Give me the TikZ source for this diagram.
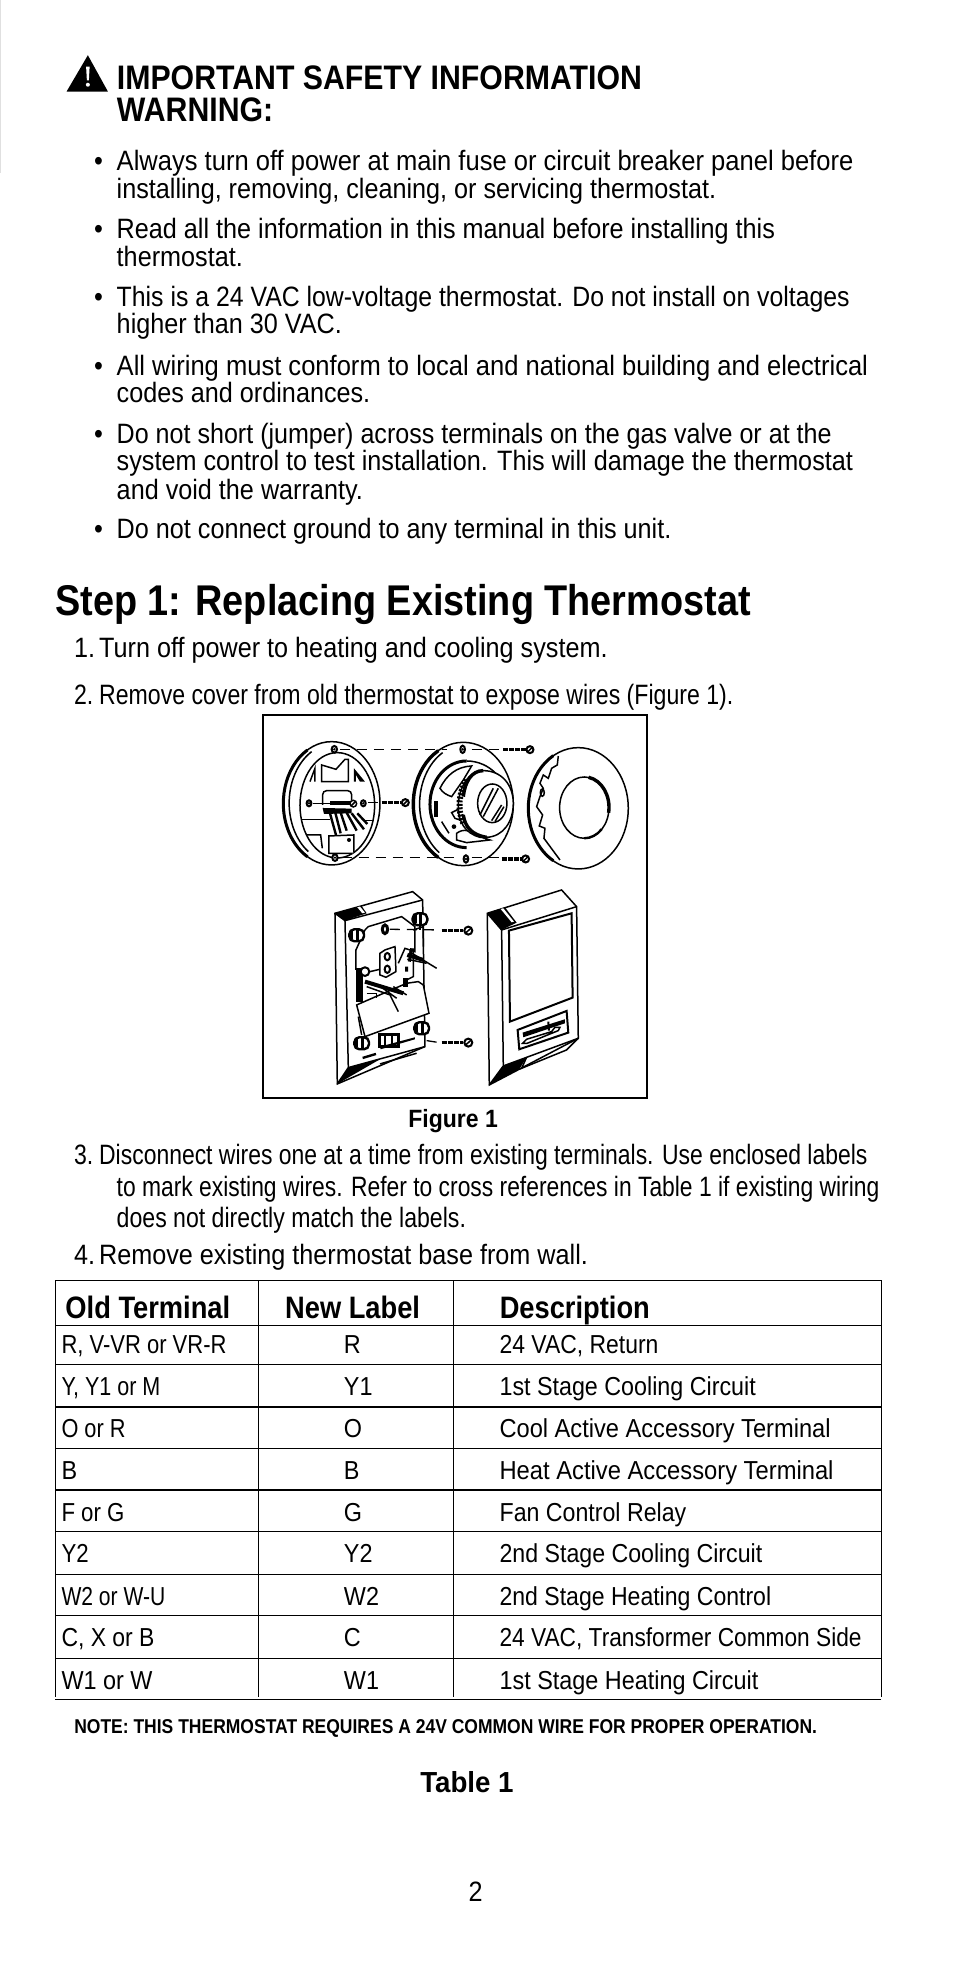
\documentclass[tikz,border=0pt]{standalone}
\usepackage{fontspec}
\setmainfont[FakeStretch=0.90,BoldFont={Liberation Sans Bold},BoldFeatures={FakeStretch=0.90}]{Liberation Sans}
\newfontfamily\tightf[FakeStretch=0.825]{Liberation Sans}
\newfontfamily\headf[FakeStretch=0.89]{Liberation Sans Bold}
\newfontfamily\titlef[FakeStretch=0.88]{Liberation Sans Bold}
\newfontfamily\colf[FakeStretch=0.88]{Liberation Sans Bold}
\newfontfamily\capf[FakeStretch=0.92]{Liberation Sans Bold}
\newfontfamily\tabf[FakeStretch=0.955]{Liberation Sans Bold}
\newfontfamily\notef[FakeStretch=0.875]{Liberation Sans Bold}
\newcommand{\sx}[2]{\scalebox{#1}[1]{#2}}
\tikzset{
 txt/.style={anchor=base west,inner sep=0pt,outer sep=0pt,font=\fontsize{28}{30}\selectfont},
 tight/.style={anchor=base west,inner sep=0pt,outer sep=0pt,font=\fontsize{28}{30}\tightf},
 cell/.style={anchor=base west,inner sep=0pt,outer sep=0pt,font=\fontsize{26}{28}\selectfont},
 ctrtxt/.style={txt,anchor=base},
 headtxt/.style={anchor=base west,inner sep=0pt,font=\fontsize{34}{36}\headf},
 titletxt/.style={anchor=base west,inner sep=0pt,font=\fontsize{43}{46}\titlef},
 colhead/.style={anchor=base west,inner sep=0pt,font=\fontsize{31}{33}\colf},
 captxt/.style={anchor=base,inner sep=0pt,font=\fontsize{25}{27}\capf},
 tabtxt/.style={anchor=base,inner sep=0pt,font=\fontsize{29}{31}\tabf},
 notetxt/.style={anchor=base west,inner sep=0pt,font=\fontsize{20}{22}\notef},
 art/.style={line width=1.5pt,black},
 dash art/.style={line width=1.3pt,black,dash pattern=on 10pt off 7pt},
 screwbody/.style={line width=3.4pt,black,dash pattern=on 5pt off 1pt},
}
\begin{document}
\begin{tikzpicture}[x=1.2553pt,y=-1.2553pt]
\useasboundingbox (0,0) rectangle (760,1571);
\fill[white] (0,0) rectangle (760,1571);
\draw[line width=1pt,black!12] (0.5,0) -- (0.5,138);
% warning triangle
\fill (70,44) -- (86,73) -- (53,73) -- cycle;
\fill[white] (68.6,53) -- (71.4,53) -- (70.8,64) -- (69.2,64) -- cycle;
\fill[white] (70,67.5) circle (1.6);
\node[headtxt] (h1) at (93,71) {IMPORTANT SAFETY INFORMATION};
\node[headtxt] (h2) at (93,97) {WARNING:};
% bullets
\foreach \n/\y in {a/136,b/190,c/244,d/299,e/353,f/429}
  \node[txt] (b\n) at (75,\y) {•};
\node[txt] (t1) at (93,136) {\sx{1.014}{Always turn off power at main fuse or circuit breaker panel before}};
\node[txt] (t2) at (93,158) {installing, removing, cleaning, or servicing thermostat.};
\node[txt] (t3) at (93,190) {Read all the information in this manual before installing this};
\node[txt] (t4) at (93,212) {thermostat.};
\node[txt] (t5) at (93,244) {\sx{0.985}{This is a 24 VAC low-voltage thermostat. Do not install on voltages}};
\node[txt] (t6) at (93,266) {higher than 30 VAC.};
\node[txt] (t7) at (93,299) {\sx{1.014}{All wiring must conform to local and national building and electrical}};
\node[txt] (t8) at (93,321) {codes and ordinances.};
\node[txt] (t9) at (93,353) {\sx{0.995}{Do not short (jumper) across terminals on the gas valve or at the}};
\node[txt] (t10) at (93,375) {system control to test installation. This will damage the thermostat};
\node[txt] (t11) at (93,398) {and void the warranty.};
\node[txt] (t12) at (93,429) {Do not connect ground to any terminal in this unit.};
\node[titletxt] (step) at (44,490) {Step 1: Replacing Existing Thermostat};
\node[txt] (s1n) at (59,524) {1.};
\node[txt] (s1) at (79,524) {Turn off power to heating and cooling system.};
\node[tight] (s2n) at (59,561) {2.};
\node[tight] (s2) at (79,561) {Remove cover from old thermostat to expose wires (Figure 1).};
\node[captxt] (fig) at (361,898) {Figure 1};
\node[tight] (s3n) at (59,928) {3.};
\node[tight] (s3) at (79,928) {\sx{0.993}{Disconnect wires one at a time from existing terminals. Use enclosed labels}};
\node[tight] (s3b) at (93,953) {\sx{0.989}{to mark existing wires. Refer to cross references in Table 1 if existing wiring}};
\node[tight] (s3c) at (93,978) {does not directly match the labels.};
\node[txt] (s4n) at (59,1007) {4.};
\node[txt] (s4) at (79,1007) {Remove existing thermostat base from wall.};
% figure box and artwork
\begin{scope}[shift={(250pt,-700pt)},x=0.3333pt,y=-0.3333pt]
 \draw[line width=2pt] (38,45) rectangle (1190,1195);
 % left disc
 \draw[art] (245,310) ellipse [x radius=145,y radius=185];
 \draw[art] (262,316) ellipse [x radius=112,y radius=158];
 \draw[line width=3pt] (172.5,150) arc[start angle=-120,end angle=-240,x radius=145,y radius=185];
 \draw[art] (185,155) arc[start angle=-120,end angle=-235,x radius=135,y radius=178];
 \begin{scope}
  \clip (262,316) ellipse [x radius=112,y radius=158];
  \draw[art] (215,245) -- (215,195) -- (258,208) -- (285,178) -- (295,178) -- (295,245) -- cycle;
  \draw[art] (180,245) -- (195,205) -- (195,245);
  \fill (312,245) -- (312,205) -- (345,245) -- (330,245) -- (318,225) -- (318,245) -- cycle;
  \draw[art,rounded corners=4pt] (218,315) -- (218,272) -- (305,272) -- (305,300);
  \draw[art] (150,358) -- (240,358);
  \draw[art] (340,362) -- (380,362);
  \draw[art] (155,405) -- (212,405) -- (217,445);
  \draw[art,fill=white] (237,408) -- (312,405) -- (312,460) -- (237,460) -- cycle;
 \end{scope}
 \fill (240,302) rectangle (302,316);
 \fill (218,324) -- (305,326) -- (305,340) -- (222,342) -- cycle;
 \draw[line width=2.4pt] (240,340) -- (258,405) (256,338) -- (272,400) (272,338) -- (290,392) (290,338) -- (320,392) (305,340) -- (342,388) (322,340) -- (352,372);
 \draw[art,fill=white] (310,311) circle (10);
 \draw[art] (303,318) -- (317,304);
 \draw[art] (190,310) -- (240,310);
 \fill (297,420) circle (6);
 \foreach \x/\y/\r in {253/148/10,255/473/10,177/310/9,340/310/9}{
  \draw[line width=2pt,fill=white] (\x,\y) ellipse [x radius=\r*0.8,y radius=\r];
  \fill (\x,\y) circle (4);}
 % middle disc
 \draw[art] (640,312) ellipse [x radius=150,y radius=185];
 \draw[line width=3.4pt] (565,152) arc[start angle=-120,end angle=-240,x radius=150,y radius=185];
 \draw[art] (578,158) arc[start angle=-120,end angle=-235,x radius=138,y radius=178];
 \draw[line width=3pt] (650,183) arc[start angle=-90,end angle=-270,x radius=110,y radius=130];
 \draw[art] (650,183) arc[start angle=-90,end angle=30,x radius=125,y radius=130];
 \draw[art,fill=white] (570,265) .. controls (590,225) and (620,200) .. (665,198) -- (640,240) -- (605,290) .. controls (590,285) and (578,278) .. (570,265) -- cycle;
 \fill (552,303) rectangle (565,350);
 \draw[art] (575,365) -- (597,400);
 \draw[art,fill=white] (620,400) .. controls (640,385) and (660,390) .. (690,410) -- (720,420) -- (650,428) -- (620,420) -- cycle;
 \fill (612,380) circle (7);
 \draw[art] (605,338) -- (625,328) -- (630,360) -- (615,355) -- cycle;
 % knob
 \draw[art,fill=white] (700,212) .. controls (660,210) and (625,260) .. (625,320) .. controls (625,365) and (645,400) .. (690,412) -- (710,412) .. controls (760,410) and (790,365) .. (790,310) .. controls (790,255) and (755,212) .. (700,212) -- cycle;
 \draw[line width=3.4pt] (700,212) .. controls (665,212) and (645,245) .. (640,290);
 \draw[line width=3.4pt] (640,345) .. controls (645,380) and (665,405) .. (710,412);
 \draw[line width=6pt,dash pattern=on 2pt off 1.6pt] (650,240) .. controls (625,280) and (622,330) .. (640,370);
 \draw[art] (727,310) ellipse [x radius=44,y radius=58];
 \draw[art] (690,345) -- (730,265) (700,350) -- (745,265) (725,362) -- (755,315) (735,365) -- (762,320);
 \foreach \x/\y in {638/148,648/477}{
  \draw[line width=2pt,fill=white] (\x,\y) ellipse [x radius=7,y radius=11];
  \fill (\x,\y) circle (4);}
 % right cover
 \draw[art] (985,325) ellipse [x radius=150,y radius=182];
 \draw[line width=3pt] (910,167) arc[start angle=-120,end angle=-240,x radius=150,y radius=182];
 \draw[art] (925,168) -- (922,195) -- (905,205) -- (895,235) -- (880,225) -- (870,250) -- (880,265) -- (870,290) -- (860,320) -- (878,345) -- (868,378) -- (885,385) -- (882,415) -- (930,480);
 \draw[art] (877,278) ellipse [x radius=6,y radius=11];
 \draw[art] (1003,323) ellipse [x radius=74,y radius=92];
 \draw[line width=3.4pt] (1016,232) arc[start angle=-80,end angle=10,x radius=74,y radius=92];
 \draw[line width=2.4pt] (1055,388) arc[start angle=45,end angle=90,x radius=74,y radius=92];
 % dashed links and screws
 \coordinate (da) at (270,148); \coordinate (db) at (590,148);
 \coordinate (dc) at (275,473); \coordinate (dd) at (615,473);
 \draw[dash art] (da) -- (db);
 \draw[dash art] (dc) -- (dd);
 \draw[dash art] (665,148) -- (750,148);
 \draw[dash art] (665,473) -- (750,473);
 \draw[dash art] (355,308) -- (392,308);
 \foreach \pa/\pb/\pc/\hy in {395/308/452/466,760/149/828/840,755/477/815/827}{
  \draw[screwbody] (\pa,\pb) -- (\pc,\pb);
  \draw[line width=2pt,fill=white] (\hy,\pb) circle (10.5);
  \draw[art] (\hy-7,\pb+7) -- (\hy+7,\pb-7);}
 % lower left plate
 \draw[art] (255,640) -- (488,575) -- (518,600) -- (525,1040) -- (262,1152) -- cycle;
 \draw[art] (255,640) -- (285,662) -- (295,1103) -- (262,1152);
 \draw[art] (285,662) -- (518,600);
 \draw[art] (295,1103) -- (525,1040);
 \fill (255,640) -- (335,618) -- (350,640) -- (285,662) -- cycle;
 \fill[white] (322,622) -- (330,620) -- (345,638) -- (337,640) -- cycle;
 \fill (262,1152) -- (295,1103) -- (390,1078) -- cycle;
 \draw[art] (345,690) -- (355,680) -- (455,650) -- (495,680) -- (495,755) -- (465,745) -- (445,790);
 \draw[art] (345,690) -- (318,750) -- (318,810);
 \draw[art] (490,690) -- (520,680) -- (520,740);
 \fill (318,805) rectangle (340,905);
 \draw[art,fill=white] (405,750) -- (435,740) -- (438,815) -- (408,832) -- (390,825) -- (390,760) -- cycle;
 \foreach \y in {770,808}{\draw[line width=2pt] (412,\y) ellipse [x radius=8,y radius=11];}
 \draw[art] (360,815) -- (390,808);
 \draw[line width=2pt,fill=white] (345,815) circle (13);
 \draw[line width=3pt] (405,688) ellipse [x radius=8,y radius=13];
 \draw[line width=3pt] (485,745) -- (478,785) (470,800) -- (470,815);
 \draw[art] (490,745) -- (490,830) -- (470,840);
 \draw[line width=4pt] (472,765) -- (520,780);
 \draw[art] (478,755) -- (560,805);
 \draw[art] (472,778) -- (530,790);
 \draw[art,fill=white] (320,915) -- (470,850) -- (505,845) -- (520,855) -- (537,940) -- (345,1010) -- cycle;
 \fill (460,835) rectangle (475,860);
 \draw[line width=4pt] (345,845) -- (460,880);
 \draw[line width=1.5pt] (350,860) -- (420,885) -- (445,935) (385,855) -- (440,895) (430,860) -- (470,885);
 \draw[line width=1.5pt] (350,880) -- (380,880) -- (380,895);
 \draw[art] (325,950) -- (335,1005);
 \foreach \x/\y in {320/706,335/1030,510/658,515/985}{
  \draw[line width=2.4pt,fill=white,rounded corners=5pt] (\x-22,\y-18) rectangle (\x+22,\y+18);
  \fill (\x-22,\y-12) rectangle (\x-10,\y+12);
  \draw[line width=2.4pt] (\x+2,\y-17) -- (\x+2,\y+17);}
 \draw[line width=1.5pt] (510,676) -- (510,690);
 \draw[line width=3pt] (388,1040) rectangle (445,1005);
 \draw[line width=2pt] (405,1008) -- (405,1040) (425,1006) -- (425,1038);
 \fill (390,1040) -- (495,1012) -- (495,1018) -- (392,1048) -- cycle;
 \draw[line width=2.4pt] (338,1074) -- (378,1062);
 \draw[art] (390,1092) -- (500,1060);
 \draw[dash art] (420,688) -- (568,690);
 \draw[dash art] (530,1022) -- (568,1028);
 \foreach \pb/\ha in {692/655,1028/655}{
  \draw[screwbody] (575,\pb) -- (640,\pb);
  \draw[line width=2pt,fill=white] (\ha,\pb) circle (12);
  \draw[art] (\ha-8,\pb+7) -- (\ha+8,\pb-7);}
 % lower right cover
 \draw[art] (712,640) -- (935,570) -- (980,620) -- (985,1015) -- (718,1155) -- cycle;
 \draw[art] (712,640) -- (755,690) -- (760,1098) -- (718,1155);
 \draw[art] (755,690) -- (980,620);
 \draw[art] (760,1098) -- (985,1015);
 \fill (712,640) -- (765,622) -- (800,668) -- (755,690) -- cycle;
 \fill[white] (752,627) -- (760,625) -- (792,665) -- (785,667) -- cycle;
 \fill (718,1155) -- (760,1098) -- (830,1072) -- (808,1108) -- cycle;
 \draw[art] (830,1072) -- (815,1105) -- (950,1050) -- (985,1015);
 \draw[line width=2pt] (777,692) -- (965,640) -- (968,893) -- (780,965) -- cycle;
 \draw[line width=2pt] (803,990) -- (950,933) -- (955,998) -- (808,1048) -- cycle;
 \fill (818,998) -- (945,958) -- (945,970) -- (820,1012) -- cycle;
 \draw[art] (818,1030) -- (830,1018) -- (905,995) -- (915,982) -- (930,982) -- (925,992) -- (832,1030) -- cycle;
 \draw[line width=2pt] (895,965) -- (897,992);
\end{scope}
% table
\foreach \y/\w in {1020/1.6,1056/1.4,1087/1.2,1121/1.6,1154/1.4,1187/1.2,1220/1.2,1254/1.2,1287/1.2,1321/1.2,1354/1.2}
  \draw[line width=\w pt] (44,\y) -- (702,\y);
\foreach \x in {44,206,361,702}
  \draw[line width=1.2pt] (\x,1020) -- (\x,1352);
\node[colhead] (c1) at (52,1050) {Old Terminal};
\node[colhead] (c2) at (227,1050) {New Label};
\node[colhead] (c3) at (398,1050) {Description};
\foreach \i/\y/\ca/\cb/\cc/\fa/\fc in {
 1/1078/{R, V-VR or VR-R}/R/{24 VAC, Return}/0.94/0.98,
 2/1112/{Y, Y1 or M}/Y1/{1st Stage Cooling Circuit}/0.92/0.995,
 3/1145/{O or R}/O/{Cool Active Accessory Terminal}/0.93/1.01,
 4/1179/B/B/{Heat Active Accessory Terminal}/1/1.015,
 5/1212/{F or G}/G/{Fan Control Relay}/0.95/0.99,
 6/1245/Y2/Y2/{2nd Stage Cooling Circuit}/0.95/0.99,
 7/1279/{W2 or W-U}/W2/{2nd Stage Heating Control}/0.9/0.985,
 8/1312/{C, X or B}/C/{24 VAC, Transformer Common Side}/0.98/0.97,
 9/1346/{W1 or W}/W1/{1st Stage Heating Circuit}/1/1}{
  \node[cell] (ra\i) at (49,\y) {\sx{\fa}{\ca}};
  \node[cell] (rb\i) at (274,\y) {\cb};
  \node[cell] (rc\i) at (398,\y) {\sx{\fc}{\cc}};
}
\node[notetxt] (nt) at (59,1381) {NOTE: THIS THERMOSTAT REQUIRES A 24V COMMON WIRE FOR PROPER OPERATION.};
\node[tabtxt] (tb) at (372,1428) {Table 1};
\node[ctrtxt] (pg) at (379,1515) {2};
\end{tikzpicture}
\end{document}
